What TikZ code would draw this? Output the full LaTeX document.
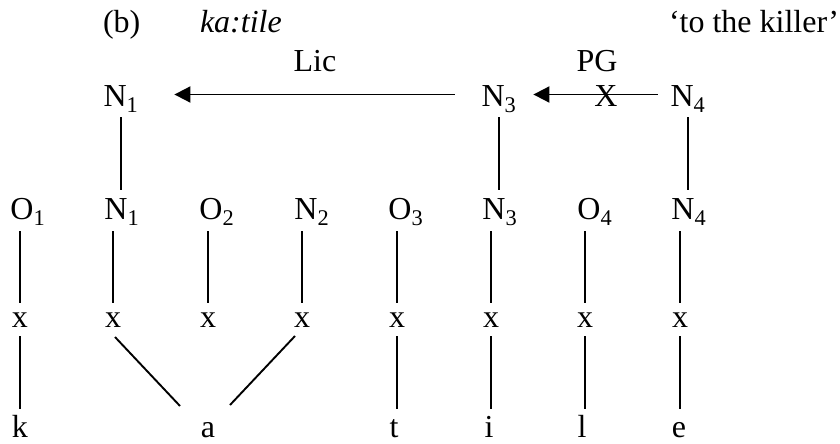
\documentclass[tikz,border=0pt]{standalone}
\usepackage{fontspec}
\setmainfont{Liberation Serif}
\usetikzlibrary{arrows.meta,calc}
\begin{document}
\begin{tikzpicture}[x=1pt,y=-1pt,
  every node/.style={inner sep=0pt, outer sep=0pt, font=\fontsize{32}{38}\selectfont},
  lab/.style={anchor=base},
  tier/.style={anchor=base, text height=23pt, text depth=0pt},
  skel/.style={anchor=base, text height=16pt, text depth=0pt},
  seg/.style={anchor=base, text height=20pt, text depth=0pt},
  link/.style={line width=1.9pt},
  govern/.style={line width=1.9pt, -{Triangle[length=16pt,width=16pt]}}]
\useasboundingbox (0,0) rectangle (840,444);

% heading
\node[lab, anchor=base west] (ex)    at (103,33) {(b)};
\node[lab, anchor=base west] (form)  at (200,33) {\textit{ka:tile}};
\node[lab, anchor=base west] (gloss) at (669,33) {‘to the killer’};

% relation labels
\node[lab] (lic) at (315,71) {Lic};
\node[lab] (pg)  at (597,71) {PG};

% upper tier of heads
\node[tier] (t1) at (121,106) {N\textsubscript{1}};
\node[tier] (t3) at (499,106) {N\textsubscript{3}};
\node[tier] (t4) at (688,106) {N\textsubscript{4}};
\node[lab]  (blocked) at (606,106) {X};

% constituent tier
\node[tier] (o1) at (22,219)  {O\rlap{\textsubscript{1}}};
\node[tier] (n1) at (116,219) {N\rlap{\textsubscript{1}}};
\node[tier] (o2) at (211,219) {O\rlap{\textsubscript{2}}};
\node[tier] (n2) at (306,219) {N\rlap{\textsubscript{2}}};
\node[tier] (o3) at (400,219) {O\rlap{\textsubscript{3}}};
\node[tier] (n3) at (494,219) {N\rlap{\textsubscript{3}}};
\node[tier] (o4) at (589,219) {O\rlap{\textsubscript{4}}};
\node[tier] (n4) at (683,219) {N\rlap{\textsubscript{4}}};

% skeletal points
\node[skel] (x1) at (20,327)  {x};
\node[skel] (x2) at (113,327) {x};
\node[skel] (x3) at (208,327) {x};
\node[skel] (x4) at (302,327) {x};
\node[skel] (x5) at (397,327) {x};
\node[skel] (x6) at (491,327) {x};
\node[skel] (x7) at (585,327) {x};
\node[skel] (x8) at (680,327) {x};

% segments
\node[seg] (sk) at (20,437)  {k};
\node[seg] (sa) at (208,437) {a};
\node[seg] (st) at (394,437) {t};
\node[seg] (si) at (489,437) {i};
\node[seg] (sl) at (582,437) {l};
\node[seg] (se) at (679,437) {e};

% licensing and proper government
\draw[govern, shorten <=27pt, shorten >=36pt] (t3.west) -- (t1.east);
\draw[govern, shorten <=13pt, shorten >=17pt] (t4.west) -- (t3.east);

% projection lines
\foreach \u/\l in {t1/n1, t3/n3, t4/n4}
  \draw[link, shorten <=11pt, shorten >=6pt] (\u.south) -- (\u.south |- \l.north);

% constituents to skeleton
\foreach \u/\l in {o1/x1, n1/x2, o2/x3, n2/x4, o3/x5, n3/x6, o4/x7, n4/x8}
  \draw[link, shorten <=12pt, shorten >=8pt] (\u.south -| \l.north) -- (\l.north);

% skeleton to segments
\foreach \u/\l in {x1/sk, x5/st, x6/si, x7/sl, x8/se}
  \draw[link, shorten <=9pt, shorten >=8pt] (\u.south) -- (\u.south |- \l.north);

% long vowel spread over two points
\draw[link] ($(x2.south)+(2,10)$) -- ($(sa.north)+(-28,-11)$);
\draw[link] ($(x4.south)+(-7,9)$) -- ($(sa.north)+(22,-12)$);
\end{tikzpicture}
\end{document}
